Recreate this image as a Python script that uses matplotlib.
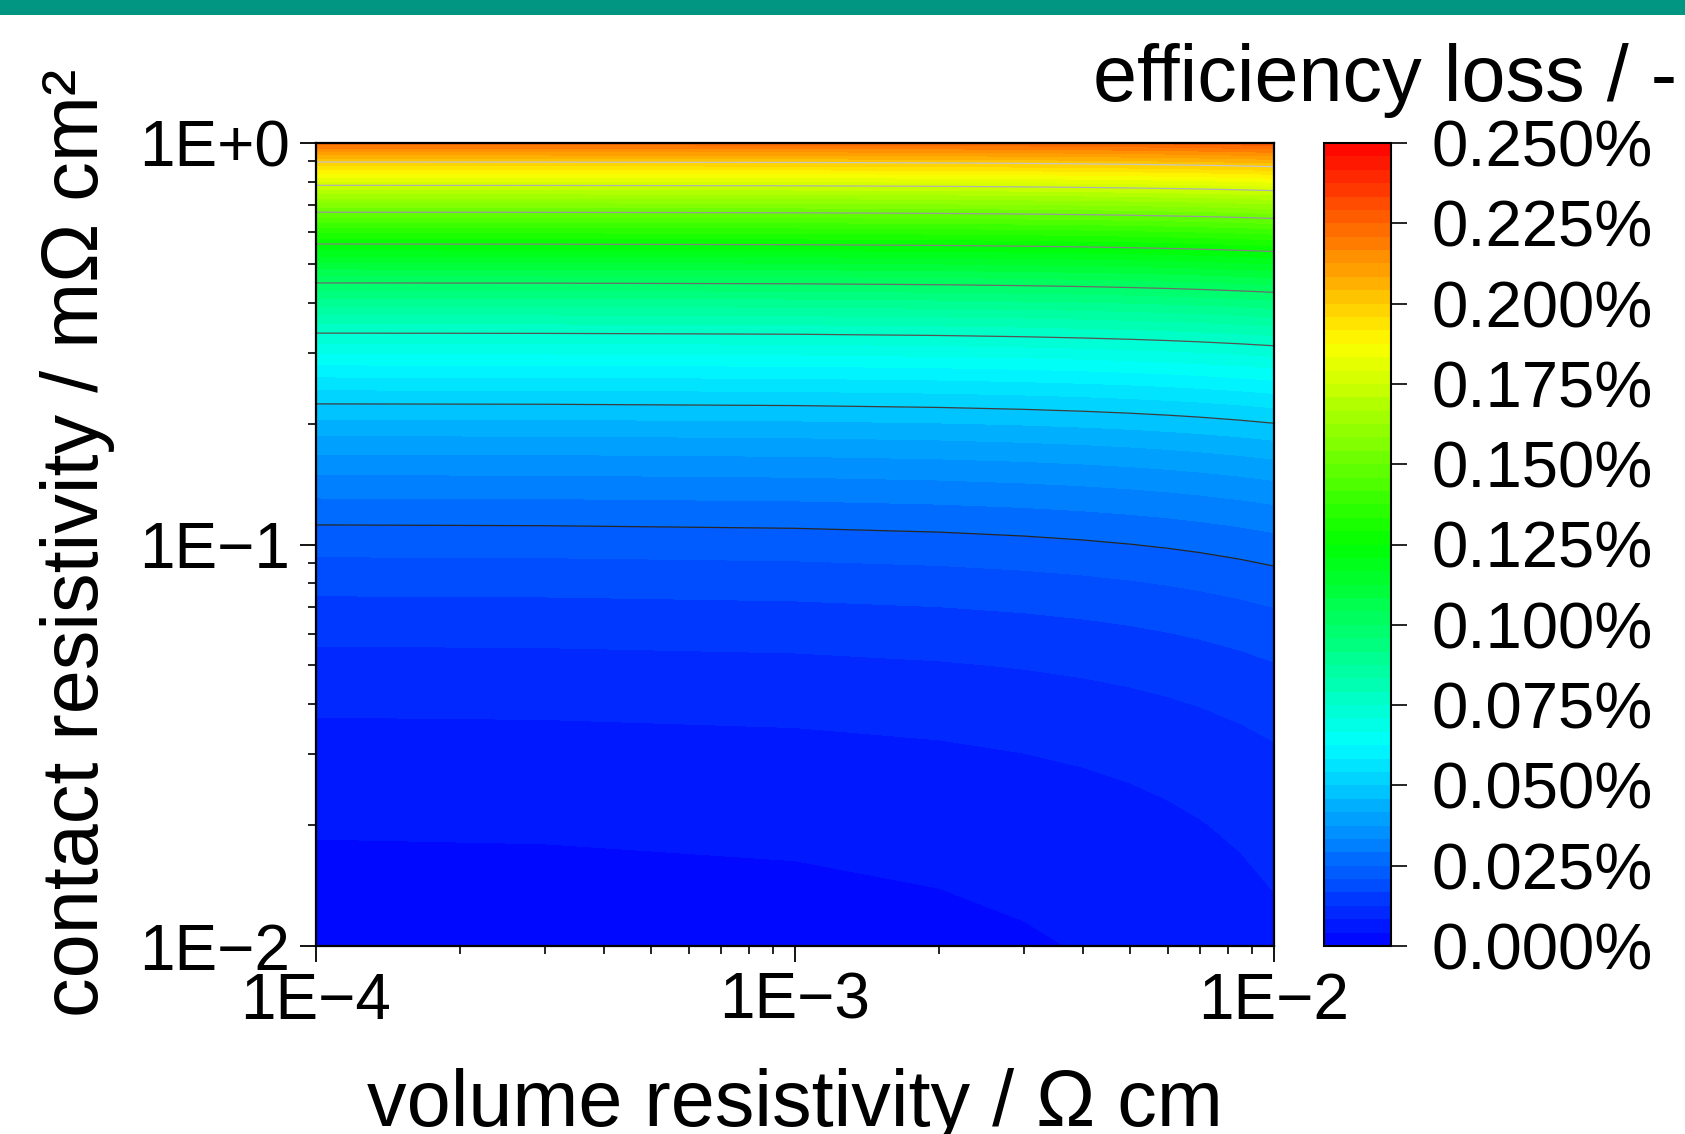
import numpy as np
import matplotlib
matplotlib.use('Agg')
import matplotlib.pyplot as plt
from matplotlib.colors import LinearSegmentedColormap
from matplotlib.ticker import LogLocator, FuncFormatter, NullFormatter
from matplotlib.patches import Rectangle

plt.rcParams['font.family'] = ['Liberation Sans', 'DejaVu Sans']

# volume resistivity / Ohm cm (x) and contact resistivity / mOhm cm^2 (y)
volume_res = [1e-4, 3e-4, 1e-3, 2e-3, 3e-3, 4e-3, 5e-3, 6e-3, 7e-3, 8.5e-3, 1e-2]
contact_res = [0.01, 0.02, 0.05, 0.1, 0.2, 0.5, 1.0]

# efficiency loss in % (rows = contact_res, cols = volume_res)
loss_pct = [
    [0.00228, 0.00239, 0.00276, 0.00329, 0.00382, 0.00435, 0.00488, 0.00541, 0.00594, 0.00674, 0.00753],
    [0.00451, 0.00462, 0.00499, 0.00552, 0.00605, 0.00658, 0.00711, 0.00764, 0.00817, 0.00897, 0.00976],
    [0.01120, 0.01131, 0.01168, 0.01221, 0.01274, 0.01327, 0.01380, 0.01433, 0.01486, 0.01566, 0.01645],
    [0.02235, 0.02246, 0.02283, 0.02336, 0.02389, 0.02442, 0.02495, 0.02548, 0.02601, 0.02681, 0.02760],
    [0.04465, 0.04476, 0.04513, 0.04566, 0.04619, 0.04672, 0.04725, 0.04778, 0.04831, 0.04911, 0.04990],
    [0.11155, 0.11166, 0.11203, 0.11256, 0.11309, 0.11362, 0.11415, 0.11468, 0.11521, 0.11601, 0.11680],
    [0.22305, 0.22316, 0.22353, 0.22406, 0.22459, 0.22512, 0.22565, 0.22618, 0.22671, 0.22751, 0.22830],
]

fill_levels = np.linspace(0.0, 0.25, 61)
line_levels = [0.025, 0.05, 0.075, 0.1, 0.125, 0.15, 0.175, 0.2]
cbar_ticks = [0.0, 0.025, 0.05, 0.075, 0.1, 0.125, 0.15, 0.175, 0.2, 0.225, 0.25]

# blue - cyan - green - yellow - red
cmap = LinearSegmentedColormap.from_list(
    'rainbow5', [(0.0, '#0000ff'), (0.25, '#00ffff'), (0.5, '#00ff00'),
                 (0.75, '#ffff00'), (1.0, '#ff0000')])
line_colors = [str(g) for g in np.linspace(0.15, 0.78, len(line_levels))]

W, H = 1685, 1134
fig = plt.figure(figsize=(W / 100, H / 100), dpi=100)

# teal banner at the top (slide header)
fig.patches.append(Rectangle((0, 1 - 15 / H), 1, 15 / H, transform=fig.transFigure,
                             facecolor='#009682', edgecolor='none'))

ax = fig.add_axes([316 / W, 1 - 946 / H, (1274 - 316) / W, (946 - 143) / H])
cax = fig.add_axes([1324 / W, 1 - 946 / H, (1391 - 1324) / W, (946 - 143) / H])

X, Y = np.meshgrid(volume_res, contact_res)
Z = np.array(loss_pct)

cf = ax.contourf(X, Y, Z, levels=fill_levels, cmap=cmap, vmin=0, vmax=0.25)
ax.contour(X, Y, Z, levels=line_levels, colors=line_colors, linewidths=0.9)

ax.set_xscale('log')
ax.set_yscale('log')
ax.set_xlim(1e-4, 1e-2)
ax.set_ylim(1e-2, 1.0)


def sci_fmt(v, pos):
    e = int(round(np.log10(v)))
    return '1E' + ('+' if e >= 0 else '\u2212') + str(abs(e))


for axis in (ax.xaxis, ax.yaxis):
    axis.set_major_locator(LogLocator(base=10))
    axis.set_minor_locator(LogLocator(base=10, subs=range(2, 10)))
    axis.set_major_formatter(FuncFormatter(sci_fmt))
    axis.set_minor_formatter(NullFormatter())

ax.tick_params(which='major', direction='out', length=11.5, width=1.3, labelsize=46)
ax.tick_params(which='minor', direction='out', length=5.5, width=1.2)
ax.tick_params(axis='y', which='major', pad=7)
ax.tick_params(axis='x', which='major', pad=7)
for s in ax.spines.values():
    s.set_linewidth(1.6)

cb = fig.colorbar(cf, cax=cax, ticks=cbar_ticks)
cb.ax.yaxis.set_major_formatter(FuncFormatter(lambda v, p: '{:.3f}%'.format(v)))
cb.ax.tick_params(direction='out', length=11.5, width=1.2, pad=18, labelsize=47)
cb.ax.minorticks_off()
cb.outline.set_linewidth(1.5)

fig.text(1677 / W, 1 - 80 / H, 'efficiency loss / -', ha='right', va='center', fontsize=57)
fig.text(0.046, 1 - 543 / H, 'contact resistivity / m\u03a9 cm\u00b2', rotation=90,
         ha='center', va='center', fontsize=57)
fig.text(795 / W, 0.007, 'volume resistivity / \u03a9 cm', ha='center', va='baseline',
         fontsize=57)

fig.savefig('out.png', dpi=100)
